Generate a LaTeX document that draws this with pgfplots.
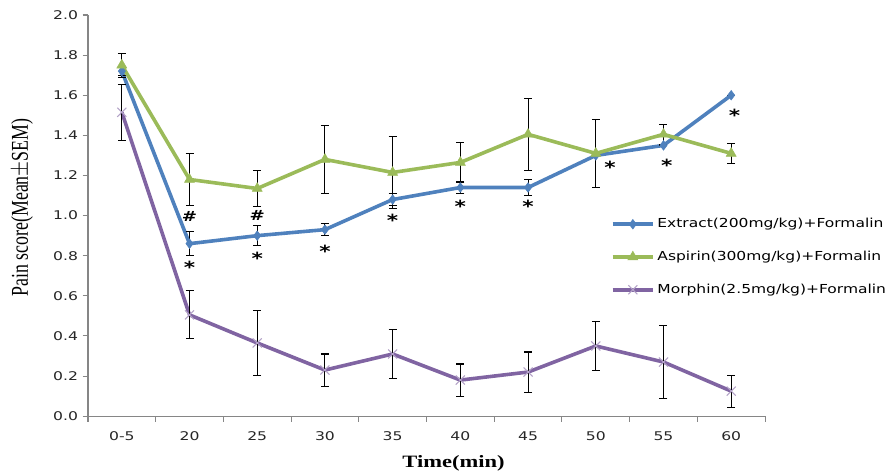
\documentclass[border=0pt]{standalone}
\usepackage{fontspec}
\usepackage{pgfplots}
\pgfplotsset{compat=1.18}
\setmainfont{DejaVu Sans}
\newfontfamily\tickfont[FakeStretch=1.3]{DejaVu Sans}
\newfontfamily\legfont[FakeStretch=1.25]{DejaVu Sans}
\newfontfamily\serifx[FakeStretch=1.3]{Liberation Serif}
\newfontfamily\serify{Liberation Serif}
\newfontfamily\annfont[FakeStretch=1.3]{DejaVu Sans}
\definecolor{cblue}{HTML}{4F81BD}
\definecolor{cgreen}{HTML}{9BBB59}
\definecolor{cpurple}{HTML}{8064A2}
\definecolor{cpurplemark}{HTML}{B3A2C7}
\definecolor{axgray}{HTML}{868686}
\begin{document}
\begin{tikzpicture}
\begin{axis}[
  scale only axis, width=508pt, height=301pt,
  xmin=-0.5, xmax=9.5, ymin=0, ymax=2,
  axis x line*=bottom, axis y line*=left,
  axis line style={draw=axgray, line width=0.8pt},
  xtick={0,1,2,3,4,5,6,7,8,9},
  xticklabels={0-5,20,25,30,35,40,45,50,55,60},
  minor xtick={-0.5,0.5,1.5,2.5,3.5,4.5,5.5,6.5,7.5,8.5,9.5},
  major x tick style={draw=none},
  minor x tick style={draw=axgray, line width=0.8pt},
  y tick style={draw=axgray, line width=0.8pt},
  ytick={0,0.2,0.4,0.6,0.8,1.0,1.2,1.4,1.6,1.8,2.0},
  major tick length=4pt, minor tick length=4pt,
  tick align=outside,
  ticklabel style={font=\tickfont\fontsize{9}{10}\selectfont, text=black!85},
  /pgf/number format/.cd, fixed, fixed zerofill, precision=1, assume math mode=true,
  /pgfplots/.cd,
  xticklabel style={yshift=-4pt},
  xlabel={\serifx\bfseries\fontsize{13}{15}\selectfont Time(min)},
  xlabel style={at={(axis description cs:0.54,0)}, anchor=center, yshift=-35pt},
  ylabel={\scalebox{1}[1.35]{\serify\fontsize{13.4}{15}\selectfont Pain score(Mean$\pm$SEM)}},
  ylabel style={at={([xshift=-49.5pt]axis description cs:0,0.52)}, anchor=center},
  legend style={at={(rel axis cs:0.772,0.50)}, anchor=north west, draw=none, fill=none,
    inner sep=0pt, font=\legfont\fontsize{9.3}{11}\selectfont, row sep=12pt},
  legend cell align=left,
  legend image code/.code={\draw[mark repeat=2,mark phase=2] plot coordinates {(0cm,0cm) (0.53cm,0cm) (1.06cm,0cm)};},
]
\addplot[cblue, line width=2.7pt, mark=diamond*, mark size=3.6pt,
  mark options={solid, fill=cblue, line width=0.4pt},
  error bars/.cd, y dir=both, y explicit,
  error bar style={black, line width=0.8pt},
  error mark options={rotate=90, mark size=3pt, black, line width=0.8pt}]
  table[x=x, y=y, y error=e] {
x y e
0 1.72 0.02
1 0.86 0.06
2 0.90 0.05
3 0.93 0.03
4 1.08 0.03
5 1.14 0.03
6 1.14 0.04
7 1.30 0
8 1.35 0
9 1.60 0
};
\addlegendentry{Extract(200mg/kg)+Formalin}
\addplot[cgreen, line width=2.7pt, mark=triangle*, mark size=4.3pt,
  mark options={solid, fill=cgreen, line width=0.4pt},
  error bars/.cd, y dir=both, y explicit,
  error bar style={black, line width=0.8pt},
  error mark options={rotate=90, mark size=3pt, black, line width=0.8pt}]
  table[x=x, y=y, y error=e] {
x y e
0 1.75 0.06
1 1.18 0.13
2 1.135 0.09
3 1.28 0.17
4 1.215 0.18
5 1.265 0.10
6 1.405 0.18
7 1.31 0.17
8 1.405 0.05
9 1.31 0.05
};
\addlegendentry{Aspirin(300mg/kg)+Formalin}
\addplot[cpurple, line width=2.7pt, mark=x, mark size=4.8pt,
  mark options={solid, draw=cpurplemark, line width=0.8pt},
  error bars/.cd, y dir=both, y explicit,
  error bar style={black, line width=0.8pt},
  error mark options={rotate=90, mark size=3pt, black, line width=0.8pt}]
  table[x=x, y=y, y error=e] {
x y e
0 1.515 0.14
1 0.505 0.12
2 0.365 0.16
3 0.23 0.08
4 0.31 0.12
5 0.18 0.08
6 0.22 0.10
7 0.35 0.12
8 0.27 0.18
9 0.125 0.08
};
\addlegendentry{Morphin(2.5mg/kg)+Formalin}
\addplot[draw=none, mark=none, forget plot, point meta=explicit symbolic,
  nodes near coords, nodes near coords style={anchor=center, inner sep=0pt, text=black,
  font=\annfont\bfseries\fontsize{10.5}{10}\selectfont}]
  coordinates {(1,0.995) [\#] (2,1.0) [\#]};
\addplot[draw=none, mark=none, forget plot, point meta=explicit symbolic,
  nodes near coords, nodes near coords style={anchor=center, inner sep=0pt, text=black,
  font=\annfont\bfseries\fontsize{12.5}{12}\selectfont}]
  coordinates {(1,0.74) [*] (2,0.785) [*] (3,0.82) [*] (4,0.975) [*] (5,1.045) [*] (6,1.045) [*] (7.21,1.24) [*] (8.05,1.25) [*] (9.05,1.50) [*]};
\end{axis}
\pgfresetboundingbox
\useasboundingbox (current axis.south west) ++(-66pt,-44.25pt) rectangle ([shift={(93.75pt,11.25pt)}]current axis.north east);
\end{tikzpicture}
\end{document}
